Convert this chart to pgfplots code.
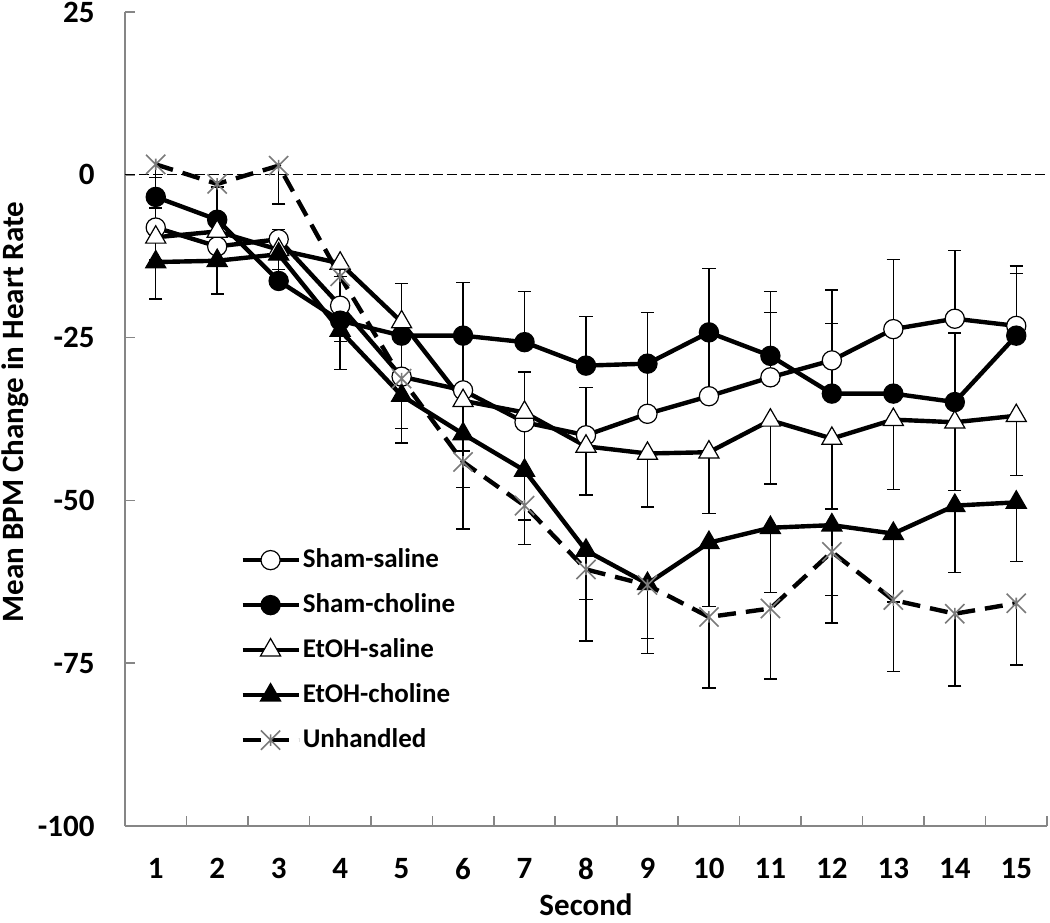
\documentclass[border=0pt]{standalone}
\usepackage{fontspec}
\setmainfont{Carlito}
\usepackage{pgfplots}
\pgfplotsset{compat=1.18}
\usetikzlibrary{calc}
\definecolor{axgray}{HTML}{868686}
\definecolor{stargray}{HTML}{7A7A7A}
\pgfdeclareplotmark{xstar}{%
  \pgfpathmoveto{\pgfqpoint{-\pgfplotmarksize}{-\pgfplotmarksize}}%
  \pgfpathlineto{\pgfqpoint{\pgfplotmarksize}{\pgfplotmarksize}}%
  \pgfpathmoveto{\pgfqpoint{-\pgfplotmarksize}{\pgfplotmarksize}}%
  \pgfpathlineto{\pgfqpoint{\pgfplotmarksize}{-\pgfplotmarksize}}%
  \pgfpathmoveto{\pgfqpoint{0pt}{-0.6\pgfplotmarksize}}%
  \pgfpathlineto{\pgfqpoint{0pt}{0.6\pgfplotmarksize}}%
  \pgfusepathqstroke}
\pgfplotsset{
  errp/.style={error bars/.cd, y dir=plus, y explicit,
    error bar style={black,line width=0.7pt,solid},
    error mark options={black,line width=0.7pt,mark size=3.3pt,solid,rotate=90}},
  errm/.style={error bars/.cd, y dir=minus, y explicit,
    error bar style={black,line width=0.7pt,solid},
    error mark options={black,line width=0.7pt,mark size=3.3pt,solid,rotate=90}},
  ser/.style={black, line width=2.2pt},
}
\begin{document}
\begin{tikzpicture}
\begin{axis}[
  name=ax,
  scale only axis, width=461pt, height=407pt,
  xmin=0.5, xmax=15.5, ymin=-100, ymax=25,
  axis lines=left,
  axis line style={draw=axgray, line width=0.8pt, -},
  xtick={0.5,1.5,2.5,3.5,4.5,5.5,6.5,7.5,8.5,9.5,10.5,11.5,12.5,13.5,14.5,15.5},
  x tick label as interval,
  xticklabels={1,2,3,4,5,6,7,8,9,10,11,12,13,14,15},
  ytick={-100,-75,-50,-25,0,25},
  yticklabels={-100,-75,-50,-25,0,25},
  tick align=inside,
  major tick length=5pt,
  tick style={draw=axgray, line width=0.8pt},
  ticklabel style={font=\fontsize{15.5}{18}\selectfont\bfseries, inner sep=0pt},
  yticklabel style={xshift=-15pt},
  xticklabel style={anchor=north, yshift=-16pt},
  xlabel={Second},
  ylabel={Mean BPM Change in Heart Rate},
  label style={font=\fontsize{15.5}{18}\selectfont\bfseries, inner sep=0pt},
  xlabel style={at={(axis description cs:0.5,0)}, anchor=base, yshift=-44.5pt},
  ylabel style={at={(axis description cs:-0.11,0.5086)}, anchor=base},
  legend style={draw=none, fill=none, at={(0.1247,0.3431)}, anchor=north west,
    inner sep=0pt, row sep=9.5pt, column sep=1pt,
    font=\fontsize{13.5}{16}\selectfont\bfseries,
    nodes={inner sep=0pt, text height=10pt, text depth=3pt}},
  legend cell align=left,
  legend image code/.code={\draw[mark repeat=2,mark phase=2] plot coordinates {(0pt,0pt) (14pt,0pt) (28pt,0pt)};},
]
\addplot[black, line width=0.6pt, dash pattern=on 5pt off 2pt, forget plot] coordinates {(0.5,0) (15.5,0)};

% Sham-saline
\addplot[ser, mark=*, mark size=4.8pt, mark options={fill=white, draw=black, line width=0.6pt}, errp] coordinates {
(1,-8.1) +- (0,3)
(2,-11.0) +- (0,4)
(3,-9.9) +- (0,1.5)
(4,-20.1) +- (0,4.5)
(5,-31.0) +- (0,6)
(6,-33.1) +- (0,8.5)
(7,-38.0) +- (0,7.7)
(8,-40.0) +- (0,7.3)
(9,-36.7) +- (0,7.7)
(10,-34.0) +- (0,9.8)
(11,-31.1) +- (0,10.0)
(12,-28.5) +- (0,10.8)
(13,-23.7) +- (0,10.7)
(14,-22.1) +- (0,10.5)
(15,-23.2) +- (0,9.2)
};
\addlegendentry{Sham-saline}

% Sham-choline
\addplot[ser, mark=*, mark size=4.8pt, mark options={fill=black, draw=black, line width=0.6pt}, errp] coordinates {
(1,-3.4) +- (0,3)
(2,-6.9) +- (0,5)
(3,-16.3) +- (0,4)
(4,-22.4) +- (0,3)
(5,-24.7) +- (0,8)
(6,-24.7) +- (0,8.2)
(7,-25.7) +- (0,7.8)
(8,-29.3) +- (0,7.5)
(9,-29.0) +- (0,7.9)
(10,-24.2) +- (0,9.8)
(11,-27.8) +- (0,9.9)
(12,-33.6) +- (0,10.8)
(13,-33.6) +- (0,10.7)
(14,-34.9) +- (0,10.6)
(15,-24.7) +- (0,9.5)
};
\addlegendentry{Sham-choline}

% EtOH-saline
\addplot[ser, mark=triangle*, mark size=5.8pt, mark options={fill=white, draw=black, line width=0.6pt}, errm] coordinates {
(1,-9.6) +- (0,3.5)
(2,-8.7) +- (0,3)
(3,-11.5) +- (0,3)
(4,-13.6) +- (0,6)
(5,-22.6) +- (0,8.5)
(6,-34.7) +- (0,7.7)
(7,-36.5) +- (0,9)
(8,-41.7) +- (0,7.5)
(9,-42.8) +- (0,8.2)
(10,-42.6) +- (0,9.4)
(11,-37.7) +- (0,9.8)
(12,-40.5) +- (0,10.8)
(13,-37.6) +- (0,10.7)
(14,-38.0) +- (0,10.5)
(15,-37.0) +- (0,9.2)
};
\addlegendentry{EtOH-saline}

% EtOH-choline
\addplot[ser, mark=triangle*, mark size=5.8pt, mark options={fill=black, draw=black, line width=0.6pt}, errm] coordinates {
(1,-13.4) +- (0,5.7)
(2,-13.2) +- (0,5.1)
(3,-12.2) +- (0,4)
(4,-23.9) +- (0,6)
(5,-33.9) +- (0,7.3)
(6,-39.8) +- (0,8.2)
(7,-45.4) +- (0,7.6)
(8,-57.7) +- (0,7.5)
(9,-62.8) +- (0,8.4)
(10,-56.5) +- (0,9.8)
(11,-54.2) +- (0,9.9)
(12,-53.8) +- (0,10.8)
(13,-55.1) +- (0,10.5)
(14,-50.8) +- (0,10.3)
(15,-50.3) +- (0,9.1)
};
\addlegendentry{EtOH-choline}

% Unhandled
\addplot[ser, dash pattern=on 9pt off 5pt, mark=xstar, mark size=4.8pt, mark options={draw=stargray, line width=0.8pt, solid}, errm] coordinates {
(1,1.6) +- (0,5)
(2,-1.4) +- (0,5)
(3,1.4) +- (0,5.9)
(4,-15.6) +- (0,10)
(5,-31.3) +- (0,7.7)
(6,-44.1) +- (0,10.3)
(7,-50.8) +- (0,6.0)
(8,-60.6) +- (0,11.0)
(9,-63.0) +- (0,10.5)
(10,-67.9) +- (0,10.9)
(11,-66.6) +- (0,10.8)
(12,-57.9) +- (0,10.9)
(13,-65.3) +- (0,11.0)
(14,-67.4) +- (0,11.1)
(15,-65.8) +- (0,9.5)
};
\addlegendentry{Unhandled}
\end{axis}
\pgfresetboundingbox
\path[use as bounding box] ($(ax.south west)+(-62.5pt,-48pt)$) rectangle ($(ax.north east)+(1.5pt,6pt)$);
\end{tikzpicture}
\end{document}
